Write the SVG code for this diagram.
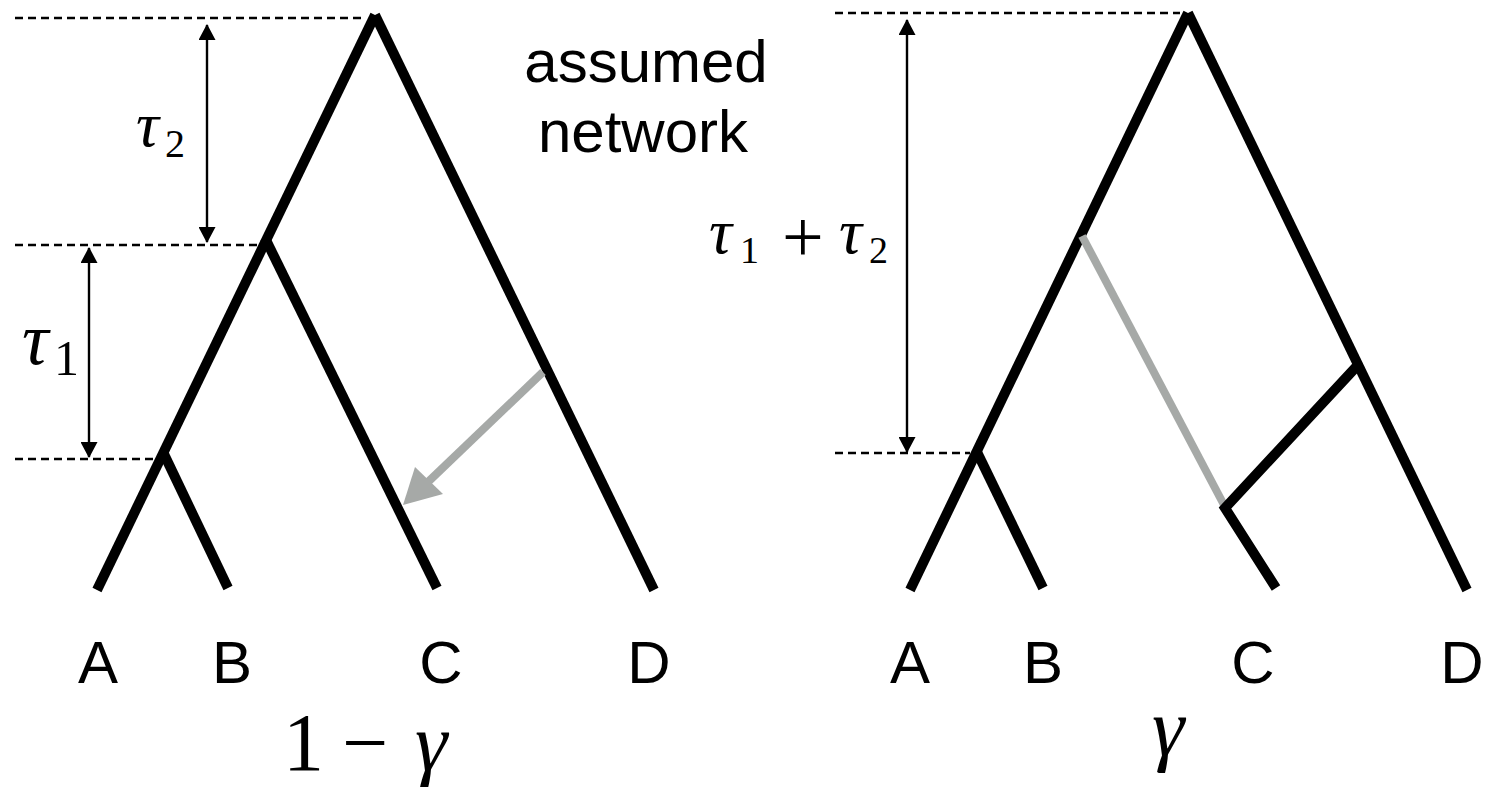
<svg xmlns="http://www.w3.org/2000/svg" width="1493" height="787" viewBox="0 0 1493 787">
<style>
.br{stroke:#000;stroke-width:10;fill:none;stroke-linecap:butt}
.gr{stroke:#a6a9a7;stroke-width:8;fill:none}
.dash{stroke:#000;stroke-width:2.6;stroke-dasharray:8 5;fill:none}
.dim{stroke:#000;stroke-width:2.4;fill:none;marker-start:url(#ah);marker-end:url(#ah)}
.lbl{font-family:"Liberation Sans",Arial,sans-serif;font-size:60px;fill:#000}
.m{font-family:"Liberation Serif","DejaVu Serif",serif;fill:#000}
.mi{font-style:italic}
</style>
<defs>
<marker id="ah" viewBox="0 0 16 17" refX="15" refY="8.5" markerWidth="16" markerHeight="17" orient="auto-start-reverse" markerUnits="userSpaceOnUse">
<path d="M0,0 L16,8.5 L0,17 z" fill="#000"/>
</marker>
</defs>

<g id="guides">
<line class="dash" x1="15" y1="18" x2="365" y2="18"/>
<line class="dash" x1="15" y1="245" x2="260" y2="245"/>
<line class="dash" x1="15" y1="459" x2="155" y2="459"/>
<line class="dash" x1="835" y1="13" x2="1180" y2="13"/>
<line class="dash" x1="835" y1="453" x2="970" y2="453"/>
<line class="dim" x1="207" y1="25" x2="207" y2="242"/>
<line class="dim" x1="89" y1="248" x2="89" y2="457"/>
<line class="dim" x1="907" y1="20" x2="907" y2="452"/>
</g>

<g id="left-tree">
<line class="br" x1="375" y1="15" x2="97" y2="590"/>
<line class="br" x1="375" y1="15" x2="654" y2="590"/>
<line class="br" x1="265" y1="238" x2="437" y2="588"/>
<line class="br" x1="163" y1="452" x2="228" y2="588"/>
</g>

<g id="left-arrow">
<line class="gr" x1="543" y1="372" x2="428" y2="482"/>
<polygon points="403,505 415,467 443,494" fill="#a6a9a7"/>
</g>

<g id="right-tree">
<line class="br" x1="1188" y1="13" x2="910" y2="590"/>
<line class="br" x1="1188" y1="13" x2="1467" y2="590"/>
<line class="br" x1="976" y1="450" x2="1043" y2="588"/>
<line class="gr" x1="1082" y1="236" x2="1224" y2="505"/>
<polyline class="br" points="1357,366 1225,508 1276,588" stroke-linejoin="miter"/>
</g>

<g id="labels">
<text class="lbl" x="646" y="82" text-anchor="middle">assumed</text>
<text class="lbl" x="643" y="152" text-anchor="middle">network</text>
<text class="lbl" x="98" y="683" text-anchor="middle">A</text>
<text class="lbl" x="232" y="683" text-anchor="middle">B</text>
<text class="lbl" x="441" y="683" text-anchor="middle">C</text>
<text class="lbl" x="649" y="683" text-anchor="middle">D</text>
<text class="lbl" x="910" y="683" text-anchor="middle">A</text>
<text class="lbl" x="1043" y="683" text-anchor="middle">B</text>
<text class="lbl" x="1253" y="683" text-anchor="middle">C</text>
<text class="lbl" x="1462" y="683" text-anchor="middle">D</text>

<text class="m mi" x="136" y="146" font-size="64">τ</text>
<text class="m" x="165" y="157" font-size="40">2</text>
<text class="m mi" x="22" y="364" font-size="74">τ</text>
<text class="m" x="54" y="375" font-size="50">1</text>

<text class="m mi" x="709" y="253" font-size="64">τ</text>
<text class="m" x="740" y="263" font-size="38">1</text>
<text class="m" x="782" y="262" font-size="74">+</text>
<text class="m mi" x="839" y="253" font-size="64">τ</text>
<text class="m" x="869" y="263" font-size="38">2</text>

<text class="m" x="283" y="770" font-size="82">1</text>
<text class="m" x="342" y="770" font-size="82">−</text>
<text class="m mi" x="415" y="770" font-size="82">γ</text>
<text class="m mi" x="1152" y="755" font-size="82">γ</text>
</g>
</svg>
